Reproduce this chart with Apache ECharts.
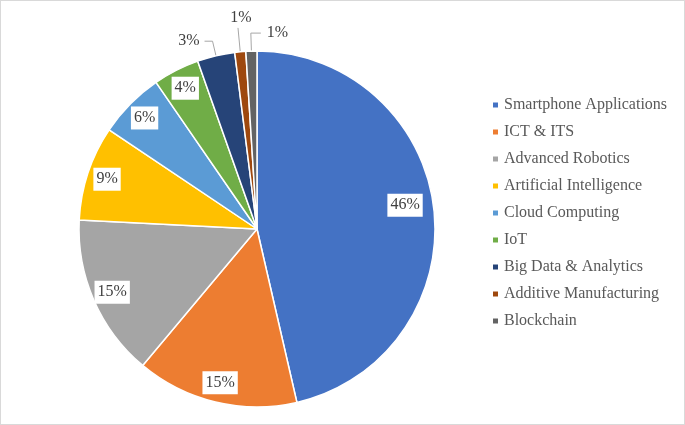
<!DOCTYPE html>
<html>
<head>
<meta charset="utf-8">
<script src="https://cdn.jsdelivr.net/npm/echarts@6/dist/echarts.min.js"></script>
<style>
  html, body { margin: 0; padding: 0; background: #fff; }
  #main { width: 683px; height: 423px; border: 1px solid #d9d9d9; }
</style>
</head>
<body>
<div id="main"></div>
<script>
// 数据
var categories = ['Smartphone Applications', 'ICT & ITS', 'Advanced Robotics', 'Artificial Intelligence',
    'Cloud Computing', 'IoT', 'Big Data & Analytics', 'Additive Manufacturing', 'Blockchain'];
var shares = [46.4, 14.7, 14.7, 8.6, 6.0, 4.2, 3.4, 1.0, 1.0];
var colors = ['#4472C4', '#ED7D31', '#A5A5A5', '#FFC000', '#5B9BD5', '#70AD47', '#264478', '#9E480E', '#636363'];
// 外部标签的引导线长度
var outsideLines = { 6: [15, 8], 7: [24, 0], 8: [18, 10] };

var serif = "'Liberation Serif', 'Times New Roman', serif";
var center = [256, 228];
var R = 178;

function pctText(p) {
    return Math.round(p.percent) + '%';
}

var labelBox = {
    color: '#404040',
    fontFamily: serif,
    fontSize: 16,
    lineHeight: 16,
    formatter: pctText
};

// 主饼图（扇区 + 外部标签）
var mainData = categories.map(function (name, i) {
    var item = { name: name, value: shares[i], itemStyle: { color: colors[i] } };
    if (outsideLines[i]) {
        item.label = { show: true, position: 'outside' };
        item.labelLine = { show: true, length: outsideLines[i][0], length2: outsideLines[i][1] };
    }
    return item;
});

// 透明覆盖层，只用来放内部标签
function overlayData(showFn) {
    return categories.map(function (name, i) {
        return {
            name: name,
            value: shares[i],
            itemStyle: { color: 'rgba(0,0,0,0)', borderWidth: 0 },
            label: { show: showFn(i) }
        };
    });
}

var overlayBase = {
    type: 'pie',
    center: center,
    startAngle: 90,
    silent: true,
    avoidLabelOverlap: false,
    legendHoverLink: false,
    labelLine: { show: false },
    emphasis: { disabled: true },
    label: Object.assign({
        position: 'inside',
        backgroundColor: '#fff',
        padding: [4, 3, 3, 3]
    }, labelBox)
};

var myChart = echarts.init(document.getElementById('main'));
var option = {
    animation: false,
    legend: {
        orient: 'vertical',
        left: 490,
        top: 96,
        padding: 0,
        itemWidth: 7,
        itemHeight: 7,
        itemGap: 11,
        icon: 'rect',
        data: categories,
        textStyle: {
            color: '#595959',
            fontFamily: serif,
            fontSize: 16,
            lineHeight: 16
        }
    },
    series: [
        {
            type: 'pie',
            radius: [0, R],
            center: center,
            startAngle: 90,
            avoidLabelOverlap: false,
            data: mainData,
            itemStyle: { borderColor: '#fff', borderWidth: 1.5 },
            label: Object.assign({ show: false }, labelBox),
            labelLine: {
                show: false,
                smooth: false,
                lineStyle: { color: '#a6a6a6', width: 1 }
            },
            emphasis: { scale: false },
            labelLayout: function (p) {
                var pts = p.labelLinePoints;
                if (!pts || pts.length < 3) return {};
                if (p.dataIndex === 7) {
                    // 放在引导线正上方
                    return {
                        x: pts[1][0] + 3, y: pts[1][1] - 2,
                        align: 'center', verticalAlign: 'bottom',
                        labelLinePoints: [pts[0], pts[1], pts[1]]
                    };
                }
                if (p.dataIndex === 8) {
                    // 翻到右侧
                    var end = [pts[1][0] + outsideLines[8][1], pts[1][1]];
                    return {
                        x: end[0] + 6, y: end[1],
                        align: 'left', verticalAlign: 'middle',
                        labelLinePoints: [pts[0], pts[1], end]
                    };
                }
                return {};
            }
        },
        Object.assign({}, overlayBase, {
            radius: [132, R],
            data: overlayData(function (i) { return i >= 1 && i <= 5; })
        }),
        Object.assign({}, overlayBase, {
            radius: [114, R],
            data: overlayData(function (i) { return i === 0; }),
            labelLayout: function () { return { dy: -7 }; }
        })
    ]
};
myChart.setOption(option);
</script>
</body>
</html>
